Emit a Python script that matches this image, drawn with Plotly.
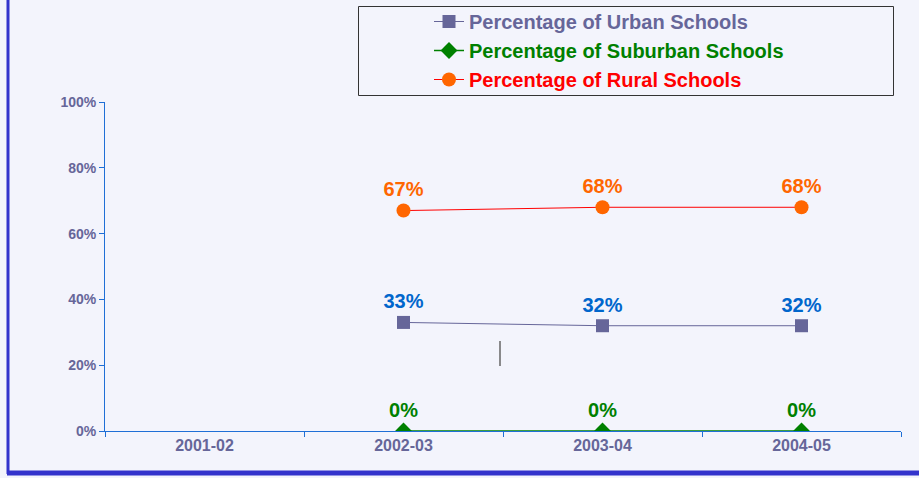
import plotly.graph_objects as go

years = ["2001-02", "2002-03", "2003-04", "2004-05"]
urban = [None, 0.33, 0.32, 0.32]
suburban = [None, 0.0, 0.0, 0.0]
rural = [None, 0.67, 0.68, 0.68]
y_ticks = [0, 0.2, 0.4, 0.6, 0.8, 1.0]

W, H = 919, 478
L, R, T, B = 105, 18, 102, 47
pw, ph = W - L - R, H - T - B

def px(x):
    return (x - L) / pw

def py(y):
    return (H - B - y) / ph

FONT = "Liberation Sans, Arial, sans-serif"
BG = "#F3F4FC"
AXIS = "#1F6FD6"

def lname(text, color):
    return f"<span style='color:{color}'><b>{text}</b></span>"

fig = go.Figure()
fig.add_trace(go.Scatter(
    x=years, y=urban, name=lname("Percentage of Urban Schools", "#666699"), mode="lines+markers+text",
    line=dict(color="#666699", width=1), marker=dict(symbol="square", size=13, color="#666699"),
    texttemplate="<b>%{y:.0%}</b>", textposition="top center",
    textfont=dict(family=FONT, size=20, color="#0066CC", weight="bold"),
))
fig.add_trace(go.Scatter(
    x=years, y=suburban, name=lname("Percentage of Suburban Schools", "#008000"), mode="lines+markers+text",
    line=dict(color="#008000", width=1.5), marker=dict(symbol="diamond", size=13, color="#008000"),
    texttemplate="<b>%{y:.0%}</b>", textposition="top center",
    textfont=dict(family=FONT, size=20, color="#008000", weight="bold"),
))
fig.add_trace(go.Scatter(
    x=years, y=rural, name=lname("Percentage of Rural Schools", "#FF0000"), mode="lines+markers+text",
    line=dict(color="#FF0000", width=1), marker=dict(symbol="circle", size=14, color="#FF6600"),
    texttemplate="<b>%{y:.0%}</b>", textposition="top center",
    textfont=dict(family=FONT, size=20, color="#FF6600", weight="bold"),
))

fig.update_layout(
    width=W, height=H,
    margin=dict(l=L, r=R, t=T, b=B, autoexpand=False),
    paper_bgcolor=BG, plot_bgcolor=BG,
    showlegend=True,
    legend=dict(
        x=px(429), y=py(2), xanchor="left", yanchor="top",
        bgcolor="rgba(0,0,0,0)", borderwidth=0,
        font=dict(family=FONT, size=20, color="#666699", weight="bold"),
        itemclick=False, itemdoubleclick=False,
    ),
    xaxis=dict(
        type="category", categoryarray=years, range=[-0.5, 3.5],
        showgrid=False, showline=True, linecolor=AXIS, linewidth=1,
        ticks="outside", tickson="boundaries", ticklen=5, tickcolor=AXIS,
        tickfont=dict(family=FONT, size=16, color="#666699", weight="bold"),
        zeroline=False,
    ),
    yaxis=dict(
        range=[0, 1], tickvals=y_ticks, tickformat=".0%",
        showgrid=False, showline=True, linecolor=AXIS, linewidth=1,
        ticks="outside", ticklen=5, tickcolor=AXIS,
        tickfont=dict(family=FONT, size=14, color="#666699", weight="bold"),
        zeroline=False,
    ),
    shapes=[
        dict(type="rect", xref="paper", yref="paper", x0=px(358.5), x1=px(893.5), y0=py(95.5), y1=py(6.5),
             line=dict(color="#333333", width=1), fillcolor="rgba(0,0,0,0)", layer="below"),
        dict(type="line", xref="paper", yref="paper", x0=px(8), x1=px(8), y0=py(-5), y1=py(474),
             line=dict(color="#3333CC", width=3)),
        dict(type="line", xref="paper", yref="paper", x0=px(7), x1=px(925), y0=py(473), y1=py(473),
             line=dict(color="#3333CC", width=5)),
        dict(type="line", xref="paper", yref="paper", x0=px(500), x1=px(500), y0=py(366), y1=py(341),
             line=dict(color="#666666", width=1.5)),
    ],
)

fig.write_html(
    "out.html",
    config={"displayModeBar": False},
    post_script="document.body.style.margin='0';document.body.style.background='#F3F4FC';document.body.style.overflow='hidden';",
)
